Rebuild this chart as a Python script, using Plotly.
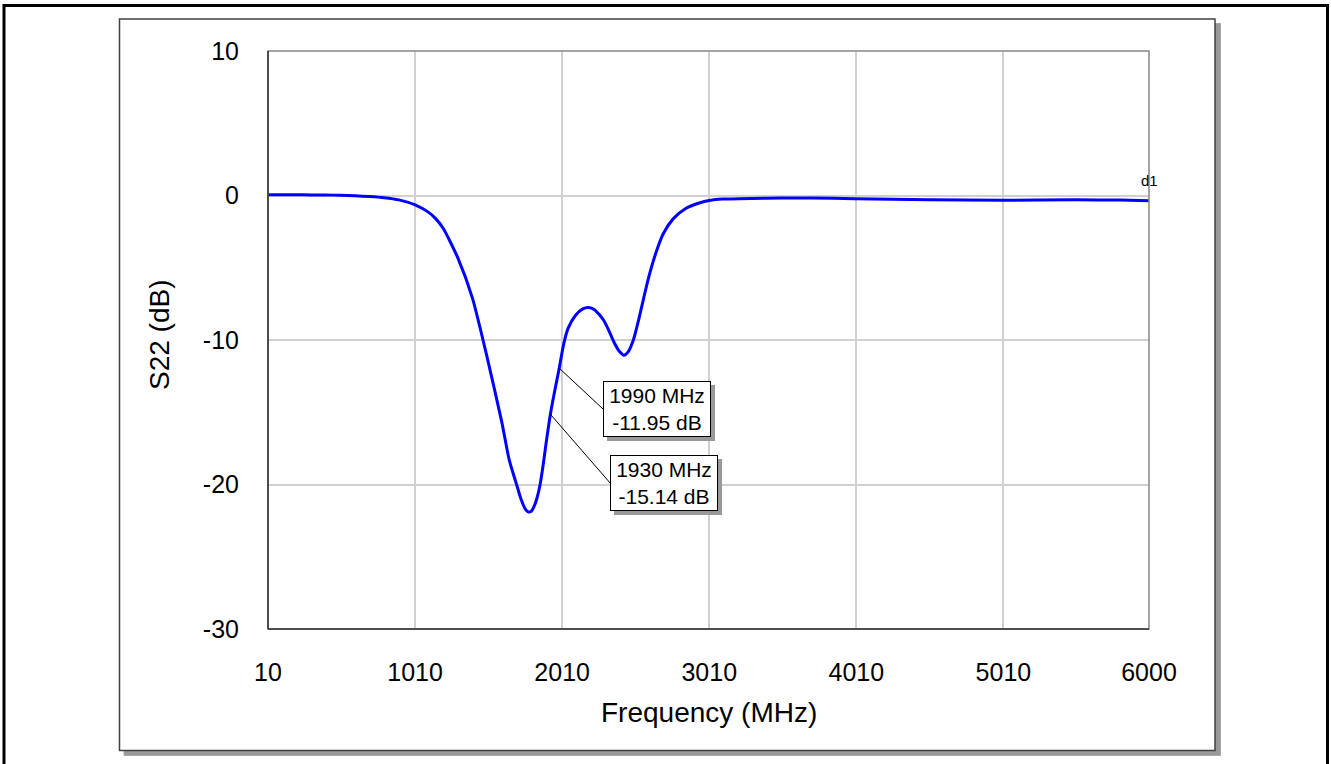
import plotly.graph_objects as go

# ---- data ----
freq_mhz = [10, 100, 200, 300, 400, 500, 600, 700, 800, 900, 1010, 1100, 1150, 1200, 1300,
            1400, 1500, 1600, 1650, 1700, 1730, 1760, 1780, 1800, 1820, 1840, 1860,
            1880, 1900, 1930, 1960, 1990, 2020, 2050, 2100, 2150, 2190, 2230, 2290,
            2330, 2360, 2400, 2430, 2460, 2494, 2530, 2562, 2600, 2653, 2700, 2766,
            2850, 2947, 3010, 3100, 3300, 3500, 3700, 4000, 4500, 5000, 5500, 5800, 6000]
s22_db = [0.05, 0.05, 0.05, 0.04, 0.03, 0.02, -0.02, -0.07, -0.15, -0.3, -0.65, -1.15,
          -1.6, -2.25, -4.3, -7.1, -11.2, -15.7, -18.3, -20.0, -21.0, -21.7, -21.9, -21.85,
          -21.5, -20.9, -20.0, -18.7, -17.2, -15.14, -13.5, -11.95, -10.3, -9.2, -8.3,
          -7.85, -7.75, -7.9, -8.6, -9.4, -10.1, -10.8, -11.05, -10.8, -10.0, -8.6,
          -7.2, -5.6, -3.8, -2.6, -1.6, -0.9, -0.5, -0.35, -0.25, -0.2, -0.18, -0.17,
          -0.22, -0.3, -0.33, -0.3, -0.32, -0.36]

x_ticks = [10, 1010, 2010, 3010, 4010, 5010, 6000]
y_ticks = [-30, -20, -10, 0, 10]

markers_f = [1990, 1930]
markers_db = [-11.95, -15.14]
marker_offsets = [(44, 41), (60, 69)]  # label box offset (px) from marker point

FONT = "Arial, Liberation Sans, sans-serif"

fig = go.Figure()
fig.add_trace(go.Scatter(
    x=freq_mhz, y=s22_db, mode="lines",
    line=dict(color="#0000ff", width=3, shape="spline", smoothing=0.6),
    hoverinfo="skip", showlegend=False))

shapes = []
# outer black border
shapes.append(dict(type="rect", xref="paper", yref="paper",
                   x0=(4 - 268) / 881, x1=(1327.5 - 268) / 881,
                   y0=(629.5 - 790) / 578, y1=(629.5 - 6) / 578,
                   line=dict(color="black", width=3), fillcolor="rgba(0,0,0,0)",
                   layer="below"))
# inner frame shadow
shapes.append(dict(type="rect", xref="paper", yref="paper",
                   x0=(124 - 268) / 881, x1=(1220.5 - 268) / 881,
                   y0=(629.5 - 756) / 578, y1=(629.5 - 24) / 578,
                   line=dict(color="#a8a8a8", width=1), fillcolor="#999999",
                   layer="below"))
# inner frame
shapes.append(dict(type="rect", xref="paper", yref="paper",
                   x0=(119.5 - 268) / 881, x1=(1215 - 268) / 881,
                   y0=(629.5 - 751) / 578, y1=(629.5 - 19.5) / 578,
                   line=dict(color="#404040", width=1.5), fillcolor="white",
                   layer="below"))
# plot-area border (top/right gray)
shapes.append(dict(type="rect", xref="paper", yref="paper", x0=0, x1=1, y0=0, y1=1,
                   line=dict(color="#888888", width=1.5), layer="above"))
shapes.append(dict(type="line", xref="paper", yref="paper", x0=0, x1=0, y0=0, y1=1,
                   line=dict(color="#303030", width=1.5), layer="above"))
shapes.append(dict(type="line", xref="paper", yref="paper", x0=0, x1=1, y0=0, y1=0,
                   line=dict(color="#303030", width=1.5), layer="above"))

annotations = []
for f, d, (dx, dy) in zip(markers_f, markers_db, marker_offsets):
    shapes.append(dict(type="line", xref="x", yref="y", xsizemode="pixel",
                       ysizemode="pixel", xanchor=f, yanchor=d,
                       x0=0, y0=0, x1=dx, y1=-dy,
                       line=dict(color="black", width=1), layer="above"))
    txt = f"{f} MHz<br>{d:.2f} dB"
    # shadow box (no text)
    annotations.append(dict(x=f, y=d, xref="x", yref="y", text=" ", showarrow=False,
                            xanchor="left", yanchor="middle", xshift=dx + 4,
                            yshift=-dy - 4, width=106, height=54, borderpad=0,
                            bgcolor="#999999", bordercolor="#999999", borderwidth=1,
                            font=dict(family=FONT, size=21, color="#999999")))
    annotations.append(dict(x=f, y=d, xref="x", yref="y", text=txt, showarrow=False,
                            xanchor="left", yanchor="middle", xshift=dx,
                            yshift=-dy, width=106, height=54, borderpad=0,
                            bgcolor="white", bordercolor="black", borderwidth=1,
                            font=dict(family=FONT, size=21, color="black")))

annotations.append(dict(x=freq_mhz[-1], y=0, xref="x", yref="y", text="d1",
                        showarrow=False, xanchor="center", yanchor="middle",
                        yshift=15, font=dict(family=FONT, size=15, color="black")))
# axis titles
annotations.append(dict(x=0.5, y=(629.5 - 713) / 578, xref="paper", yref="paper",
                        text="Frequency (MHz)", showarrow=False, xanchor="center",
                        yanchor="middle", font=dict(family=FONT, size=28, color="black")))
annotations.append(dict(x=(159 - 268) / 881, y=(629.5 - 335.5) / 578, xref="paper",
                        yref="paper", text="S22 (dB)", showarrow=False, textangle=-90,
                        xanchor="center", yanchor="middle",
                        font=dict(family=FONT, size=28, color="black")))

fig.update_layout(
    width=1331, height=764,
    margin=dict(l=268, r=182, t=51, b=135, pad=0),
    paper_bgcolor="white", plot_bgcolor="white",
    shapes=shapes, annotations=annotations,
    font=dict(family=FONT, color="black"),
    showlegend=False,
    xaxis=dict(range=[10, 6000], tickvals=x_ticks, ticktext=[str(v) for v in x_ticks],
               showgrid=True, gridcolor="#d0d0d0", gridwidth=1.5, zeroline=False,
               showline=False, ticks="", ticklabelstandoff=26,
               tickfont=dict(family=FONT, size=25, color="black")),
    yaxis=dict(range=[-30, 10], tickvals=y_ticks, ticktext=[str(v) for v in y_ticks],
               showgrid=True, gridcolor="#d0d0d0", gridwidth=1.5, zeroline=False,
               showline=False, ticks="", ticklabelstandoff=28,
               tickfont=dict(family=FONT, size=25, color="black")),
)

fig.write_html("out.html", config={"displayModeBar": False})
